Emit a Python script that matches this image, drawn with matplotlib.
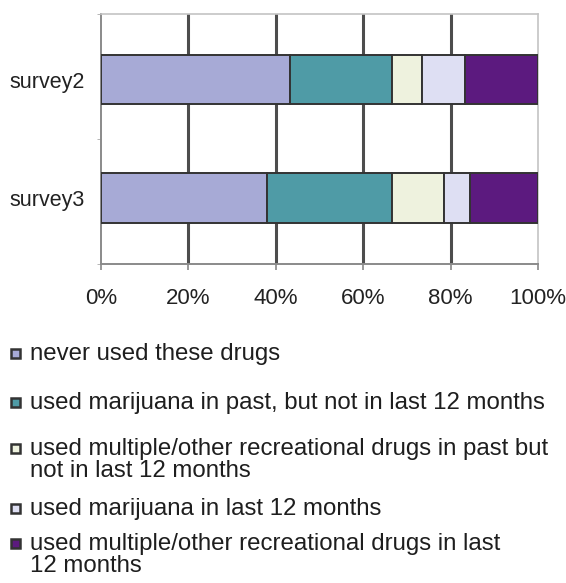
import matplotlib.pyplot as plt
import numpy as np
from matplotlib.patches import Rectangle
from matplotlib.transforms import ScaledTranslation

plt.rcParams['font.family'] = ['Liberation Sans', 'DejaVu Sans']

surveys = ["survey2", "survey3"]
categories = [
    "never used these drugs",
    "used marijuana in past, but not in last 12 months",
    "used multiple/other recreational drugs in past but\nnot in last 12 months",
    "used marijuana in last 12 months",
    "used multiple/other recreational drugs in last\n12 months",
]
# share of respondents (%) per survey, one list per category
never_used = [43.2, 37.9]
marijuana_past = [23.5, 28.7]
other_past = [6.8, 12.0]
marijuana_recent = [9.9, 5.8]
other_recent = [16.6, 15.6]
shares = [never_used, marijuana_past, other_past, marijuana_recent, other_recent]

colors = ["#a7aad6", "#4f9ba6", "#eef2de", "#dedff3", "#5c1a7f"]
xticks = [0, 20, 40, 60, 80, 100]
xticklabels = ["0%", "20%", "40%", "60%", "80%", "100%"]

W, H = 566, 583
fig = plt.figure(figsize=(W / 100, H / 100), dpi=100)
ax = fig.add_axes([101 / W, 1 - 264 / H, 437 / W, 250 / H])

ypos = np.arange(len(surveys))
left = np.zeros(len(surveys))
for vals, col in zip(shares, colors):
    vals = np.array(vals)
    ax.barh(ypos, vals, left=left, height=0.42, color=col,
            edgecolor="#333333", linewidth=1.4, zorder=3)
    left += vals

ax.set_xlim(0, 100)
ax.set_ylim(1.56, -0.555)
for x in xticks[1:-1]:
    ax.axvline(x, color="#4d4d4d", linewidth=2.2, zorder=1)

ax.set_xticks(xticks)
ax.set_xticklabels(xticklabels, fontsize=16, color="#222222")
# keep the last percentage label inside the canvas
last = ax.get_xticklabels()[-1]
last.set_transform(last.get_transform() + ScaledTranslation(-0.04, 0, fig.dpi_scale_trans))
ax.set_yticks(ypos)
ax.set_yticklabels(surveys, fontsize=15.5, color="#222222")
ax.tick_params(axis="y", length=0, pad=11.5)
ax.tick_params(axis="x", length=4, width=1.2, color="#888888", pad=13)
ax.set_yticks([-0.555, 0.5, 1.56], minor=True)
ax.tick_params(axis="y", which="minor", length=3, color="#aaaaaa")

for side in ("left", "bottom"):
    ax.spines[side].set_color("#8a8a8a")
    ax.spines[side].set_linewidth(1.4)
for side in ("top", "right"):
    ax.spines[side].set_color("#c4c4c4")
    ax.spines[side].set_linewidth(1.2)

# legend laid out as a column under the plot
legend_mid = [353, 402, 448, 508, 543]
for label, col, ymid in zip(categories, colors, legend_mid):
    fig.add_artist(Rectangle((11 / W, 1 - (ymid + 4.5) / H), 9 / W, 9 / H,
                             transform=fig.transFigure, facecolor=col,
                             edgecolor="#333333", linewidth=1.8))
    fig.text(30 / W, 1 - (ymid - 10) / H, label, fontsize=17.3, color="#1e1e1e",
             va="top", ha="left", linespacing=0.98)

fig.savefig("out.png", dpi=100)
